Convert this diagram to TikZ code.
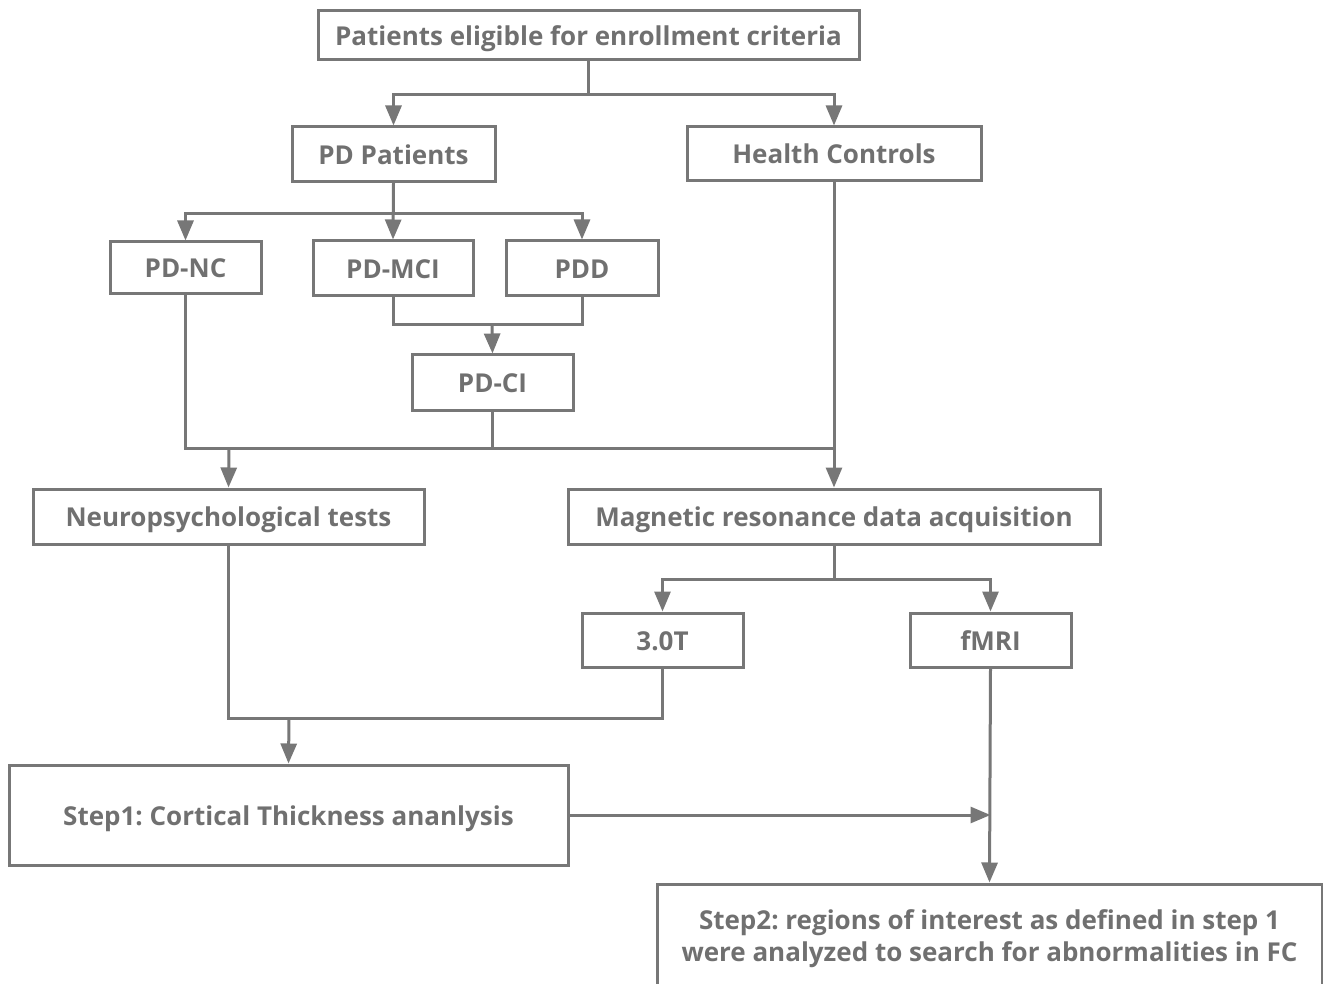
\documentclass[tikz,border=0pt]{standalone}
\usepackage{fontspec}
\setmainfont{Open Sans}
\usetikzlibrary{arrows.meta,positioning}
\definecolor{flowgray}{HTML}{777777}
\definecolor{labelgray}{HTML}{707070}
\frenchspacing

\begin{document}
\begin{tikzpicture}[x=1pt,y=-1pt,>={Triangle[length=20pt,width=16pt]},
  box/.style={draw=flowgray,line width=3pt,text=labelgray,inner sep=0pt,align=center,
    font=\fontsize{26}{32}\selectfont\bfseries},
  oneline/.style={box,text height=23pt,text depth=3pt},
  line/.style={draw=flowgray,line width=3pt}]
\useasboundingbox (0,0) rectangle (1323,984);

% boxes
\node[oneline,minimum width=541pt,minimum height=49pt] (elig) at (588.5,35.5) {Patients eligible for enrollment criteria};
\node[oneline,minimum width=203pt,minimum height=55pt] (pdp) at (393.5,154.5) {PD Patients};
\node[oneline,minimum width=294pt,minimum height=54pt] (hc) at (834,154) {Health Controls};
\node[oneline,minimum width=151pt,minimum height=52pt] (pdnc) at (185.5,268) {PD-NC};
\node[oneline,minimum width=160pt,minimum height=55pt] (pdmci) at (393,268.5) {PD-MCI};
\node[oneline,minimum width=152pt,minimum height=55pt] (pdd) at (582,268.5) {PDD};
\node[oneline,minimum width=161pt,minimum height=55pt] (pdci) at (492.5,382.5) {PD-CI};
\node[oneline,minimum width=391pt,minimum height=55pt] (neuro) at (228.5,516.5) {Neuropsychological tests};
\node[oneline,minimum width=532pt,minimum height=55pt] (mr) at (834,516.5) {Magnetic resonance data acquisition};
\node[oneline,minimum width=161pt,minimum height=54pt] (t3) at (662.5,640) {3.0T};
\node[oneline,minimum width=161pt,minimum height=54pt] (fmri) at (990.5,640) {fMRI};
\node[oneline,minimum width=559pt,minimum height=100pt] (step1) at (288.5,815) {Step1: Cortical Thickness ananlysis};
\node[box,minimum width=665pt,minimum height=110pt] (step2) at (989.5,939) {Step2: regions of interest as defined in step 1\\were analyzed to search for abnormalities in FC};

% joins
\coordinate (ci-join) at (492,325);
\coordinate (test-join) at (229,448);
\coordinate (mr-join) at (834,448);
\coordinate (step-join) at (289,718);

% connectors
\draw[line,->] (elig.south) -- ++(0,33) -| (pdp.north);
\draw[line,->] (elig.south) -- ++(0,33) -| (hc.north);
\draw[line,->] (pdp.south) -- (pdmci.north);
\draw[line,->] (pdp.south) -- ++(0,30) -| (pdnc.north);
\draw[line,->] (pdp.south) -- ++(0,30) -| (pdd.north);
\draw[line] (pdmci.south) |- (ci-join) -| (pdd.south);
\draw[line,->] (ci-join) -- (pdci.north);
\draw[line] (pdnc.south) |- (mr-join);
\draw[line] (pdci.south) -- (pdci.south |- mr-join);
\draw[line] (hc.south) -- (mr-join);
\draw[line,->] (test-join) -- (neuro.north);
\draw[line,->] (mr-join) -- (mr.north);
\draw[line,->] (mr.south) -- ++(0,34) -| (t3.north);
\draw[line,->] (mr.south) -- ++(0,34) -| (fmri.north);
\draw[line] (neuro.south) |- (step-join) -| (t3.south);
\draw[line,->] (step-join) -- (step1.north);
\draw[line,->] (step1.east) -- (step1.east -| fmri.south);
\draw[line,->] (fmri.south) -- (step2.north);
\end{tikzpicture}
\end{document}
